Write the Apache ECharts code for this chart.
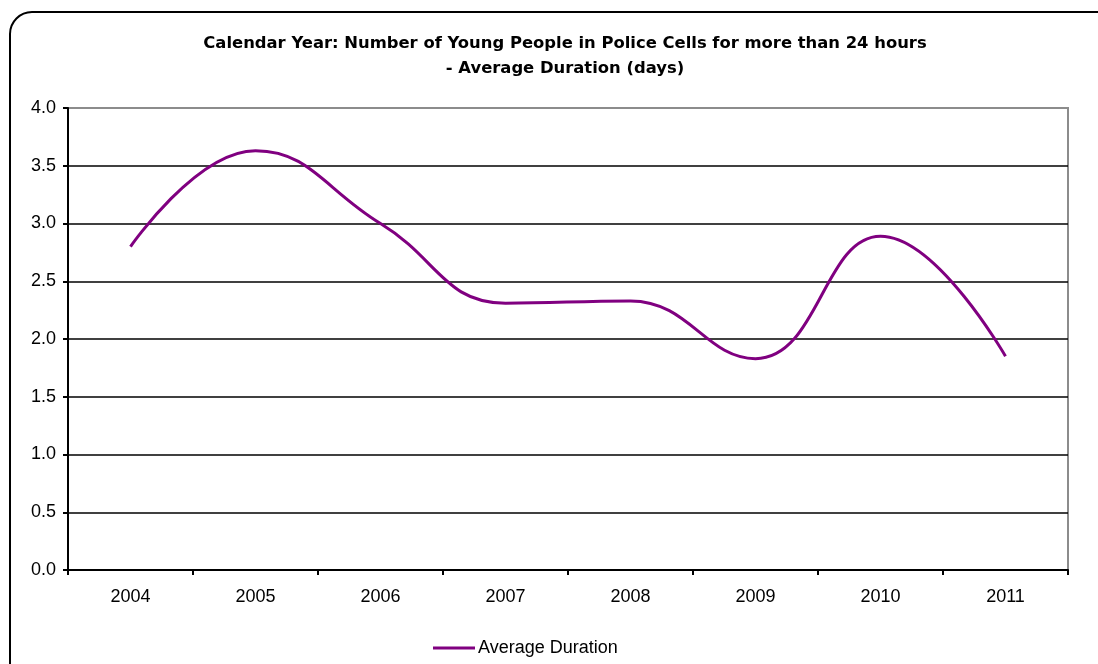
<!DOCTYPE html>
<html>
<head>
<meta charset="utf-8">
<script src="https://cdn.jsdelivr.net/npm/echarts@6/dist/echarts.min.js"></script>
<style>html,body{margin:0;padding:0;background:#fff;}#c{width:1098px;height:664px;}</style>
</head>
<body>
<div id="c"></div>
<script>
const categories = ['2004','2005','2006','2007','2008','2009','2010','2011'];
const averageDuration = [2.8, 3.63, 3.0, 2.31, 2.33, 1.83, 2.89, 1.85];
const yTicks = [0, 0.5, 1.0, 1.5, 2.0, 2.5, 3.0, 3.5, 4.0];
const titleText = 'Calendar Year: Number of Young People in Police Cells for more than 24 hours\n- Average Duration (days)';
const seriesName = 'Average Duration';

const chart = echarts.init(document.getElementById('c'));
const gridColors = yTicks.map((v, i) => i === yTicks.length - 1 ? '#8c8c8c' : '#000');
chart.setOption({
  animation: false,
  backgroundColor: '#fff',
  graphic: [{
    type: 'rect',
    shape: { x: 10, y: 12, width: 1110, height: 700, r: 22 },
    style: { fill: 'none', stroke: '#000', lineWidth: 2 },
    z: -1
  }],
  title: {
    text: titleText,
    left: 560, top: 26, textAlign: 'center',
    textStyle: { fontFamily: 'DejaVu Sans', fontWeight: 'bold', fontSize: 16.4, lineHeight: 25, color: '#000' }
  },
  legend: {
    bottom: 2, left: 428,
    icon: 'rect', itemWidth: 42, itemHeight: 3, itemGap: 6,
    textStyle: { fontFamily: 'Liberation Sans', fontSize: 18, color: '#000', padding: [0,0,0,-2] },
    data: [seriesName]
  },
  grid: {
    left: 68, right: 30, top: 108, bottom: 94,
    show: true, borderColor: '#8c8c8c', borderWidth: 2, backgroundColor: 'transparent'
  },
  xAxis: {
    type: 'category', data: categories, boundaryGap: true,
    axisLine: { lineStyle: { color: '#000', width: 2 } },
    axisTick: { show: true, length: 5, lineStyle: { color: '#000', width: 2 }, interval: 0 },
    axisLabel: { fontFamily: 'Liberation Sans', fontSize: 18, color: '#000', margin: 18 }
  },
  yAxis: {
    type: 'value', min: 0, max: 4, interval: 0.5,
    axisLine: { show: true, lineStyle: { color: '#000', width: 2 } },
    axisTick: { show: true, length: 5, lineStyle: { color: '#000', width: 2 } },
    axisLabel: { fontFamily: 'Liberation Sans', fontSize: 18, color: '#000', margin: 12, formatter: v => v.toFixed(1) },
    splitLine: { show: true, lineStyle: { color: gridColors, width: 1.5 } }
  },
  series: [{
    name: seriesName, type: 'line', data: averageDuration,
    smooth: 0.45, showSymbol: false, symbol: 'none',
    lineStyle: { color: '#800080', width: 3 },
    itemStyle: { color: '#800080' }
  }]
});
</script>
</body>
</html>
